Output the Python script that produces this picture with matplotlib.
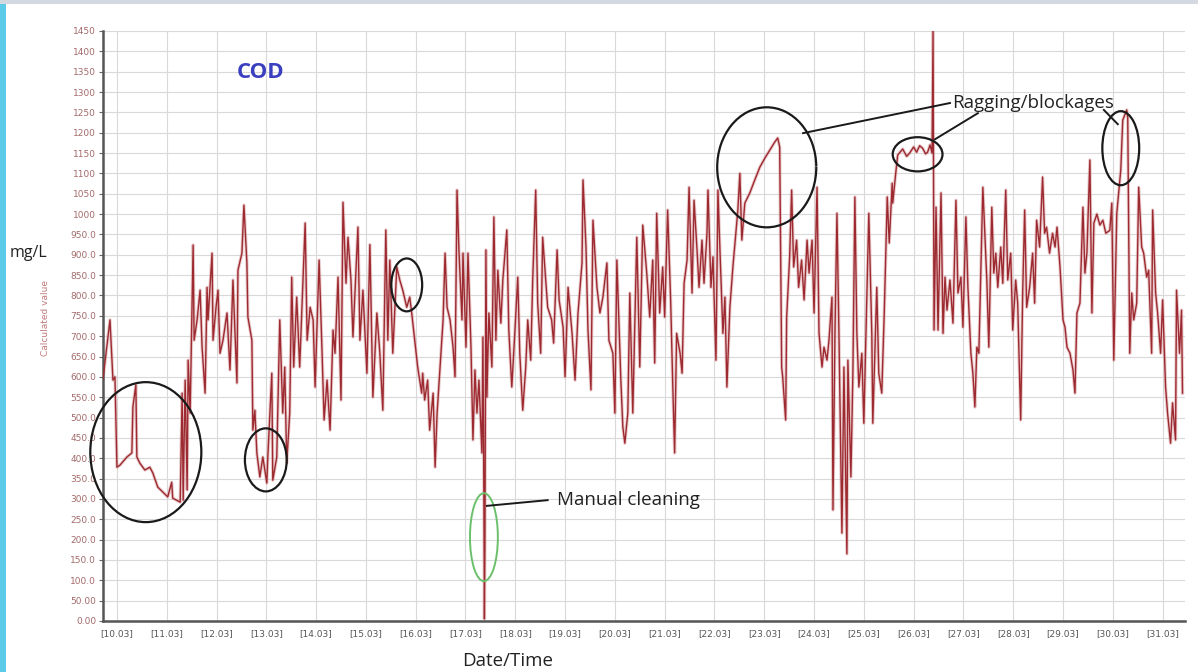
import matplotlib
matplotlib.use("Agg")
import matplotlib.pyplot as plt
from matplotlib.patches import Ellipse, Arc, Rectangle

# ---- data (day of March, COD mg/L) ----
day = [
    9.72, 9.86, 9.92, 9.96, 10.00, 10.06, 10.20, 10.30, 10.32, 10.38, 10.40, 10.46, 10.56, 10.66,
    10.72, 10.82, 10.92, 11.02, 11.10, 11.12, 11.27, 11.31, 11.33, 11.37, 11.41, 11.43, 11.47,
    11.53, 11.55, 11.61, 11.67, 11.71, 11.77, 11.81, 11.83, 11.91, 11.93, 11.99, 12.03, 12.07,
    12.13, 12.21, 12.27, 12.33, 12.41, 12.43, 12.51, 12.55, 12.61, 12.63, 12.71, 12.73, 12.77,
    12.81, 12.87, 12.93, 13.01, 13.03, 13.11, 13.13, 13.21, 13.27, 13.33, 13.37, 13.41, 13.47,
    13.51, 13.55, 13.61, 13.67, 13.78, 13.82, 13.88, 13.94, 13.98, 14.06, 14.12, 14.16, 14.22,
    14.28, 14.34, 14.38, 14.44, 14.50, 14.54, 14.60, 14.64, 14.70, 14.74, 14.84, 14.88, 14.94,
    15.02, 15.08, 15.14, 15.22, 15.28, 15.34, 15.40, 15.44, 15.48, 15.54, 15.62, 15.68, 15.74,
    15.82, 15.88, 15.92, 15.98, 16.04, 16.12, 16.14, 16.18, 16.24, 16.28, 16.35, 16.39, 16.43,
    16.49, 16.55, 16.59, 16.63, 16.69, 16.75, 16.79, 16.83, 16.87, 16.93, 16.95, 17.01, 17.05,
    17.11, 17.15, 17.19, 17.23, 17.27, 17.33, 17.35, 17.37, 17.38, 17.39, 17.41, 17.43, 17.47,
    17.53, 17.57, 17.61, 17.65, 17.71, 17.75, 17.83, 17.87, 17.93, 17.99, 18.05, 18.09, 18.15,
    18.21, 18.25, 18.31, 18.35, 18.41, 18.45, 18.51, 18.55, 18.61, 18.65, 18.73, 18.77, 18.84,
    18.88, 18.96, 19.00, 19.06, 19.14, 19.20, 19.26, 19.34, 19.36, 19.42, 19.46, 19.52, 19.56,
    19.64, 19.70, 19.76, 19.84, 19.88, 19.96, 20.00, 20.04, 20.12, 20.16, 20.20, 20.26, 20.30,
    20.36, 20.44, 20.50, 20.56, 20.64, 20.70, 20.76, 20.80, 20.84, 20.90, 20.96, 21.00, 21.06,
    21.12, 21.16, 21.20, 21.24, 21.31, 21.35, 21.39, 21.45, 21.49, 21.55, 21.59, 21.65, 21.69,
    21.75, 21.79, 21.85, 21.87, 21.93, 21.97, 22.03, 22.07, 22.11, 22.17, 22.21, 22.25, 22.31,
    22.37, 22.43, 22.47, 22.51, 22.55, 22.61, 22.71, 22.81, 22.91, 23.01, 23.11, 23.21, 23.27,
    23.31, 23.35, 23.37, 23.43, 23.45, 23.51, 23.55, 23.59, 23.65, 23.69, 23.75, 23.80, 23.86,
    23.90, 23.96, 24.00, 24.06, 24.10, 24.16, 24.20, 24.26, 24.30, 24.36, 24.38, 24.42, 24.46,
    24.50, 24.56, 24.60, 24.66, 24.68, 24.74, 24.78, 24.82, 24.86, 24.90, 24.96, 25.00, 25.06,
    25.10, 25.16, 25.18, 25.26, 25.30, 25.36, 25.41, 25.47, 25.51, 25.57, 25.58, 25.64, 25.68,
    25.78, 25.86, 25.92, 26.00, 26.06, 26.12, 26.18, 26.24, 26.28, 26.33, 26.37, 26.39, 26.41,
    26.45, 26.49, 26.55, 26.59, 26.63, 26.67, 26.73, 26.79, 26.85, 26.89, 26.95, 26.99, 27.05,
    27.09, 27.15, 27.19, 27.23, 27.27, 27.31, 27.37, 27.39, 27.43, 27.47, 27.51, 27.57, 27.61,
    27.65, 27.69, 27.75, 27.79, 27.85, 27.89, 27.95, 27.99, 28.05, 28.09, 28.15, 28.19, 28.23,
    28.27, 28.33, 28.39, 28.43, 28.47, 28.53, 28.59, 28.63, 28.67, 28.73, 28.79, 28.84, 28.88,
    28.94, 29.00, 29.04, 29.08, 29.14, 29.20, 29.24, 29.28, 29.34, 29.40, 29.44, 29.48, 29.54,
    29.58, 29.62, 29.68, 29.74, 29.80, 29.86, 29.94, 29.98, 30.02, 30.08, 30.16, 30.20, 30.28,
    30.30, 30.34, 30.38, 30.42, 30.48, 30.52, 30.58, 30.62, 30.68, 30.72, 30.78, 30.80, 30.86,
    30.90, 30.96, 31.00, 31.06, 31.10, 31.16, 31.20, 31.26, 31.28, 31.34, 31.38, 31.40,
]
cod = [
    595, 740, 592, 600, 378, 383, 403, 413, 526, 580, 403, 388, 371, 378,
    364, 329, 317, 305, 341, 302, 292, 560, 297, 592, 322, 641, 511,
    924, 690, 740, 813, 673, 560, 820, 740, 904, 690, 771, 813, 658,
    690, 757, 617, 838, 585, 862, 904, 1022, 880, 747, 690, 469, 518,
    413, 354, 403, 339, 403, 609, 346, 403, 740, 511, 624, 388, 511,
    845, 624, 796, 624, 978, 690, 771, 740, 575, 887, 658, 494, 592,
    469, 715, 658, 845, 543, 1029, 830, 943, 838, 698, 968, 690, 813,
    609, 925, 550, 757, 658, 518, 961, 690, 887, 658, 870, 838, 813,
    771, 796, 757, 690, 624, 560, 609, 543, 592, 469, 560, 378, 511,
    624, 740, 904, 771, 740, 673, 600, 1059, 904, 740, 904, 673, 904,
    673, 445, 617, 511, 592, 413, 698, 297, 5, 182, 912, 550, 757,
    624, 993, 690, 862, 732, 838, 961, 715, 575, 707, 845, 658, 518,
    624, 740, 641, 838, 1059, 781, 658, 943, 838, 771, 740, 683, 912,
    789, 722, 600, 820, 707, 592, 757, 880, 1084, 919, 715, 568, 985,
    820, 757, 796, 880, 690, 658, 511, 887, 592, 477, 437, 511, 806,
    511, 943, 624, 973, 855, 747, 887, 634, 1002, 757, 870, 747, 1010,
    789, 592, 413, 707, 658, 609, 830, 887, 1066, 806, 1034, 912, 820,
    936, 830, 953, 1059, 820, 895, 641, 1059, 912, 707, 796, 575, 771,
    870, 953, 1010, 1100, 936, 1027, 1052, 1084, 1115, 1137, 1157, 1177, 1187,
    1165, 624, 600, 494, 747, 895, 1059, 870, 936, 820, 887, 789, 936,
    855, 936, 757, 1066, 707, 624, 673, 641, 690, 796, 273, 707, 1002,
    707, 216, 624, 165, 641, 354, 609, 1042, 707, 575, 658, 486, 789,
    1002, 707, 486, 820, 609, 560, 757, 1042, 929, 1076, 1027, 1100, 1145,
    1160, 1142, 1150, 1165, 1152, 1168, 1162, 1148, 1152, 1170, 1150, 1450, 715,
    1017, 715, 1052, 707, 845, 764, 838, 732, 1034, 806, 845, 722, 993,
    820, 658, 609, 526, 673, 658, 961, 1066, 953, 838, 673, 1017, 855,
    904, 820, 919, 830, 1059, 838, 904, 715, 838, 781, 494, 806, 1010,
    771, 820, 904, 781, 985, 919, 1091, 953, 968, 904, 953, 919, 968,
    870, 740, 722, 673, 658, 617, 560, 757, 781, 1017, 855, 904, 1133,
    757, 978, 1000, 973, 985, 953, 960, 1027, 641, 1002, 1108, 1231, 1256,
    1238, 658, 806, 740, 781, 1066, 919, 904, 845, 862, 658, 1010, 806,
    757, 658, 789, 575, 511, 437, 536, 445, 813, 658, 764, 560,
]
day_ticks = list(range(10, 32))
day_labels = ["[%d.03]" % d for d in day_ticks]
y_ticks = list(range(0, 1451, 50))
y_labels = [("%d" % v) if v >= 1000 else ("%.1f" % v if v >= 100 else "%.2f" % v) for v in y_ticks]

W, H = 1198, 672
fig = plt.figure(figsize=(W / 100, H / 100), dpi=100)
fig.patch.set_facecolor("white")

# left cyan strip and top grey band
fig.patches.append(Rectangle((0, 0), 6 / W, 1, transform=fig.transFigure,
                             facecolor="#5ccbe9", edgecolor="none", zorder=0))
fig.patches.append(Rectangle((0, 1 - 4 / H), 1, 4 / H, transform=fig.transFigure,
                             facecolor="#d4d8e0", edgecolor="none", zorder=0))

ax = fig.add_axes([103 / W, 1 - 621 / H, (1185 - 103) / W, (621 - 31) / H])
ax.set_xlim(9.72, 31.45)
ax.set_ylim(0, 1450)

ax.plot(day, cod, color="#d9a0a3", lw=2.4, alpha=0.55, zorder=2)
ax.plot(day, cod, color="#9c2a30", lw=1.0, zorder=3)

ax.set_yticks(y_ticks)
ax.set_yticklabels(y_labels)
ax.set_xticks(day_ticks)
ax.set_xticklabels(day_labels)
ax.tick_params(axis="y", labelsize=6.5, labelcolor="#a46a6a", length=3, color="#666666", pad=2)
ax.tick_params(axis="x", labelsize=6.5, labelcolor="#555555", length=0, pad=6)
ax.grid(True, color="#d9d9d9", lw=0.8)
ax.set_axisbelow(True)
for s in ("top", "right"):
    ax.spines[s].set_visible(False)
for s in ("left", "bottom"):
    ax.spines[s].set_color("#555555")
    ax.spines[s].set_linewidth(1.8)

# texts
ax.text(12.89, 1349, "COD", color="#3a3fbf", fontsize=16, fontweight="bold",
        ha="center", va="center", family="Open Sans")
fig.text(10 / W, 1 - 253 / H, "mg/L", fontsize=11.5, color="#222222", ha="left", va="center",
         family="Open Sans")
fig.text(45 / W, 1 - 318 / H, "Calculated value", fontsize=6.5, color="#c07a7a",
         rotation=90, ha="center", va="center")
fig.text(508 / W, 1 - 661 / H, "Date/Time", fontsize=13.5, color="#222222", ha="center",
         va="center", family="Open Sans")

# annotation ellipses
ek = dict(fill=False, lw=1.6, edgecolor="#1a1a1a", zorder=5, clip_on=False)
ax.add_patch(Ellipse((10.58, 415), 2.23, 344, **ek))
ax.add_patch(Ellipse((12.99, 396), 0.84, 155, **ek))
ax.add_patch(Ellipse((15.82, 826), 0.62, 130, **ek))
ax.add_patch(Arc((23.05, 1115), 1.99, 295, theta1=62, theta2=410, lw=1.6, color="#1a1a1a",
                 zorder=5, clip_on=False))
ax.add_patch(Ellipse((26.08, 1147), 1.0, 84, **ek))
ax.add_patch(Ellipse((30.16, 1162), 0.74, 182, **ek))
ax.add_patch(Ellipse((17.37, 206), 0.56, 216, fill=False, lw=1.4, edgecolor="#6cc06c", zorder=5))

# callout lines and labels
lk = dict(color="#1a1a1a", lw=1.4, zorder=5)
ax.plot([17.43, 18.65], [283, 297], **lk)
ax.text(18.84, 297, "Manual cleaning", fontsize=13.5, color="#222222", va="center",
        family="Open Sans")
ax.plot([23.78, 26.73], [1199, 1273], **lk)
ax.plot([26.43, 27.29], [1184, 1248], **lk)
ax.plot([29.82, 30.10], [1256, 1221], **lk)
ax.text(26.77, 1273, "Ragging/blockages", fontsize=13.5, color="#222222", va="center",
        family="Open Sans")

fig.savefig("out.png", dpi=100)
